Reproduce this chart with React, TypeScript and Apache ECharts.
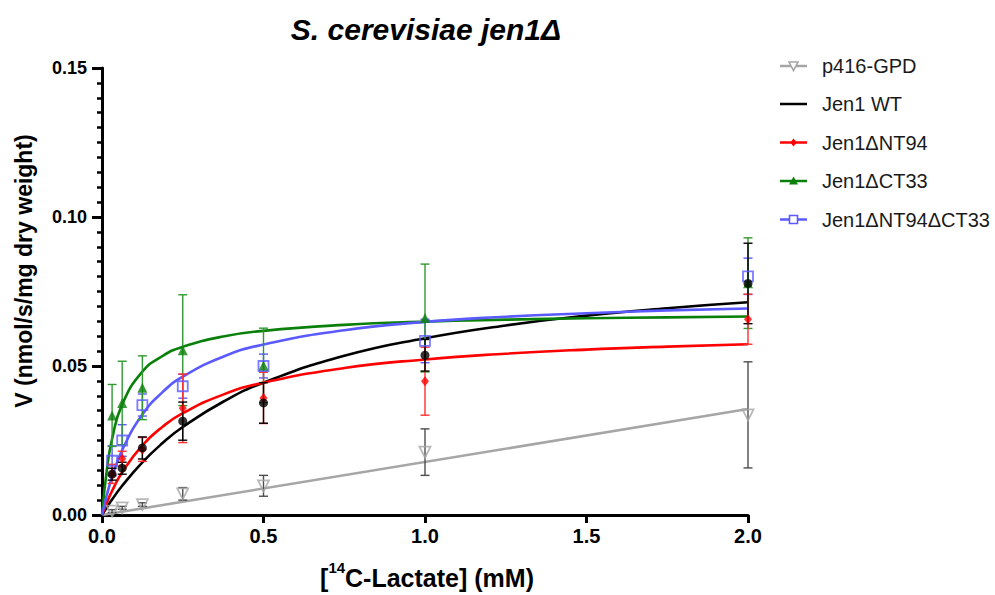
import React, { useEffect, useRef } from 'react';
import * as echarts from 'echarts';

// ---- data ----
const concentrations = [0.03125, 0.0625, 0.125, 0.25, 0.5, 1.0, 2.0];

const p416Mean = [0.0013, 0.0024, 0.0035, 0.0071, 0.0098, 0.0211, 0.0336];
const p416Sd = [0.0005, 0.0005, 0.0006, 0.0021, 0.0035, 0.0078, 0.0178];

const wtMean = [0.0137, 0.0157, 0.0225, 0.0315, 0.0376, 0.0536, 0.0777];
const wtSd = [0.002, 0.002, 0.0037, 0.0064, 0.0068, 0.0053, 0.0135];

const nt94Mean = [0.0138, 0.0189, 0.022, 0.0358, 0.0393, 0.0449, 0.0657];
const nt94Sd = [0.0032, 0.0025, 0.004, 0.0115, 0.0086, 0.0114, 0.0084];

const ct33Mean = [0.0334, 0.0376, 0.0427, 0.0553, 0.0502, 0.0661, 0.0778];
const ct33Sd = [0.0104, 0.014, 0.0107, 0.0186, 0.0125, 0.0181, 0.0152];

const dblMean = [0.0182, 0.025, 0.0369, 0.0432, 0.05, 0.0584, 0.0801];
const dblSd = [0.005, 0.0053, 0.0037, 0.004, 0.004, 0.0073, 0.0061];

// fitted curves
const curveX = [0, 0.015625, 0.03125, 0.0625, 0.125, 0.1875, 0.25, 0.375, 0.5, 0.75, 1.0, 1.25, 1.5, 1.75, 2.0];
const wtFit = [0, 0.00267, 0.00519, 0.00981, 0.01767, 0.02413, 0.02952, 0.038, 0.0444, 0.0534, 0.0593, 0.0636, 0.0669, 0.0694, 0.0714];
const nt94Fit = [0, 0.00431, 0.00808, 0.01433, 0.02338, 0.02961, 0.03416, 0.0404, 0.0444, 0.0493, 0.0522, 0.05413, 0.0555, 0.05649, 0.0573];
const ct33Fit = [0, 0.01567, 0.02549, 0.03712, 0.0481, 0.05336, 0.05645, 0.0599, 0.0618, 0.0638, 0.0649, 0.06555, 0.066, 0.06631, 0.0666];
const dblFit = [0, 0.00697, 0.01274, 0.02177, 0.0337, 0.04124, 0.0464, 0.0531, 0.0572, 0.062, 0.0648, 0.06653, 0.0677, 0.06865, 0.0693];
const p416FitX = [0, 2.0];
const p416Fit = [0, 0.0356];

const legendNames = ['p416-GPD', 'Jen1 WT', 'Jen1\u0394NT94', 'Jen1\u0394CT33', 'Jen1\u0394NT94\u0394CT33'];
const titleText = 'S. cerevisiae jen1\u0394';
const yAxisTitle = 'V (nmol/s/mg dry weight)';

const FONT = 'Liberation Sans, Arial, Helvetica, sans-serif';
const GRAY = '#a6a6a6';
const BLACK = '#000000';
const RED = '#ff0000';
const GREEN = '#0a800a';
const BLUE = '#5a5aff';

function pairs(xs: number[], ys: number[]) {
  return xs.map((x, i) => [x, ys[i]]);
}
function bars(mean: number[], sd: number[]) {
  return concentrations.map((c, i) => [c, mean[i] - sd[i], mean[i] + sd[i]]);
}

function errorSeries(name: string, mean: number[], sd: number[], color: string, z: number) {
  return {
    type: 'custom',
    name: name + '-err',
    z,
    data: bars(mean, sd),
    encode: { x: 0, y: [1, 2] },
    renderItem: (params: any, api: any) => {
      const x = api.value(0);
      const lo = api.value(1);
      const hi = api.value(2);
      const p1 = api.coord([x, hi]);
      const p2 = api.coord([x, lo]);
      const w = 4.5;
      const style = { stroke: color, lineWidth: 1.4 };
      return {
        type: 'group',
        children: [
          { type: 'line', shape: { x1: p1[0], y1: p1[1], x2: p2[0], y2: p2[1] }, style },
          { type: 'line', shape: { x1: p1[0] - w, y1: p1[1], x2: p1[0] + w, y2: p1[1] }, style },
          { type: 'line', shape: { x1: p2[0] - w, y1: p2[1], x2: p2[0] + w, y2: p2[1] }, style },
        ],
      };
    },
  };
}

function curveSeries(name: string, xs: number[], ys: number[], color: string, z: number) {
  return {
    type: 'line',
    name: name + '-fit',
    z,
    data: pairs(xs, ys),
    showSymbol: false,
    symbol: 'none',
    smooth: 0.5,
    lineStyle: { color, width: 2.6 },
  };
}

function pointSeries(name: string, mean: number[], opts: any, z: number) {
  return {
    type: 'scatter',
    name,
    z,
    data: pairs(concentrations, mean),
    ...opts,
  };
}

function legendGraphics() {
  const out: any[] = [];
  const colors = [GRAY, BLACK, RED, GREEN, BLUE];
  const ys = [66, 104, 142.5, 181, 219.5];
  const x1 = 780;
  const x2 = 807;
  const cx = 793.5;
  ys.forEach((y, i) => {
    const c = colors[i];
    out.push({ type: 'line', shape: { x1, y1: y, x2, y2: y }, style: { stroke: c, lineWidth: 2.5 } });
    if (i === 0) {
      out.push({ type: 'polygon', shape: { points: [[cx - 4.5, y - 4], [cx + 4.5, y - 4], [cx, y + 4.5]] }, style: { fill: '#fff', stroke: c, lineWidth: 1.6 } });
    } else if (i === 2) {
      out.push({ type: 'polygon', shape: { points: [[cx, y - 4], [cx + 3.2, y], [cx, y + 4], [cx - 3.2, y]] }, style: { fill: c } });
    } else if (i === 3) {
      out.push({ type: 'polygon', shape: { points: [[cx, y - 4.5], [cx + 4.5, y + 3.5], [cx - 4.5, y + 3.5]] }, style: { fill: c } });
    } else if (i === 4) {
      out.push({ type: 'rect', shape: { x: cx - 4, y: y - 4, width: 8, height: 8 }, style: { fill: '#fff', stroke: c, lineWidth: 1.6 } });
    }
    out.push({
      type: 'text',
      x: 822,
      y,
      style: { text: legendNames[i], fill: '#1a1a1a', font: `20px ${FONT}`, align: 'left', verticalAlign: 'middle' },
    });
  });
  return out;
}

export default function App() {
  const ref = useRef<HTMLDivElement>(null);
  useEffect(() => {
    if (!ref.current) return;
    const chart = echarts.init(ref.current, undefined, { renderer: 'svg' });
    const option: any = {
      animation: false,
      backgroundColor: '#ffffff',
      grid: { left: 102, right: 247, top: 68, bottom: 80, outerBoundsMode: 'none' },
      xAxis: {
        type: 'value',
        min: 0,
        max: 2,
        interval: 0.5,
        axisLine: { show: true, lineStyle: { color: '#000', width: 3 } },
        axisTick: { show: true, length: 8, lineStyle: { color: '#000', width: 3 } },
        axisLabel: {
          color: '#000',
          fontSize: 20,
          fontWeight: 'bold',
          fontFamily: FONT,
          margin: 11,
          formatter: (v: number) => v.toFixed(1),
        },
        splitLine: { show: false },
      },
      yAxis: {
        type: 'value',
        min: 0,
        max: 0.15,
        interval: 0.05,
        axisLine: { show: true, lineStyle: { color: '#000', width: 3 } },
        axisTick: { show: true, length: 10, lineStyle: { color: '#000', width: 3 } },
        minorTick: { show: true, splitNumber: 10, length: 5, lineStyle: { color: '#000', width: 2.5 } },
        axisLabel: {
          color: '#000',
          fontSize: 18,
          fontWeight: 'bold',
          fontFamily: FONT,
          margin: 15,
          formatter: (v: number) => v.toFixed(2),
        },
        splitLine: { show: false },
        minorSplitLine: { show: false },
      },
      series: [
        curveSeries('p416-GPD', p416FitX, p416Fit, GRAY, 2),
        curveSeries('Jen1 WT', curveX, wtFit, BLACK, 2),
        curveSeries('Jen1dNT94', curveX, nt94Fit, RED, 2),
        curveSeries('Jen1dCT33', curveX, ct33Fit, GREEN, 2),
        curveSeries('Jen1dNT94dCT33', curveX, dblFit, BLUE, 2),
        errorSeries('p416-GPD', p416Mean, p416Sd, '#4d4d4d', 3),
        errorSeries('Jen1dNT94dCT33', dblMean, dblSd, BLUE, 3),
        errorSeries('Jen1dCT33', ct33Mean, ct33Sd, '#2f9a2f', 3),
        errorSeries('Jen1dNT94', nt94Mean, nt94Sd, '#ff3030', 3),
        errorSeries('Jen1 WT', wtMean, wtSd, BLACK, 3),
        pointSeries('p416-GPD', p416Mean, {
          symbol: 'triangle', symbolRotate: 180, symbolSize: 11,
          itemStyle: { color: 'rgba(255,255,255,0)', borderColor: GRAY, borderWidth: 1.8 },
        }, 4),
        pointSeries('Jen1dNT94dCT33', dblMean, {
          symbol: 'rect', symbolSize: 10,
          itemStyle: { color: 'rgba(255,255,255,0)', borderColor: BLUE, borderWidth: 1.8 },
        }, 5),
        pointSeries('Jen1dCT33', ct33Mean, {
          symbol: 'triangle', symbolSize: 10,
          itemStyle: { color: GREEN },
        }, 6),
        pointSeries('Jen1dNT94', nt94Mean, {
          symbol: 'diamond', symbolSize: [8, 10],
          itemStyle: { color: RED },
        }, 7),
        pointSeries('Jen1 WT', wtMean, {
          symbol: 'circle', symbolSize: 9,
          itemStyle: { color: BLACK },
        }, 8),
      ],
      graphic: [
        {
          type: 'text',
          x: 426,
          y: 29,
          style: {
            text: titleText,
            fill: '#000',
            font: `italic bold 30px ${FONT}`,
            align: 'center',
            verticalAlign: 'middle',
          },
        },
        {
          type: 'text',
          x: 24,
          y: 271,
          rotation: Math.PI / 2,
          style: {
            text: yAxisTitle,
            fill: '#000',
            font: `bold 23px ${FONT}`,
            align: 'center',
            verticalAlign: 'middle',
          },
        },
        {
          type: 'text',
          x: 427,
          y: 575,
          style: {
            text: '{b|[}{s|14}{b|C-Lactate] (mM)}',
            align: 'center',
            verticalAlign: 'middle',
            rich: {
              b: { fontSize: 25, fontWeight: 'bold', fontFamily: FONT, fill: '#000', lineHeight: 30, verticalAlign: 'bottom' },
              s: { fontSize: 15, fontWeight: 'bold', fontFamily: FONT, fill: '#000', lineHeight: 15, verticalAlign: 'top' },
            },
          },
        },
        ...legendGraphics(),
      ],
    };
    chart.setOption(option);
    return () => chart.dispose();
  }, []);
  return (
    <div
      ref={ref}
      style={{ position: 'fixed', left: 0, top: 0, width: 995, height: 595, background: '#fff' }}
    />
  );
}
